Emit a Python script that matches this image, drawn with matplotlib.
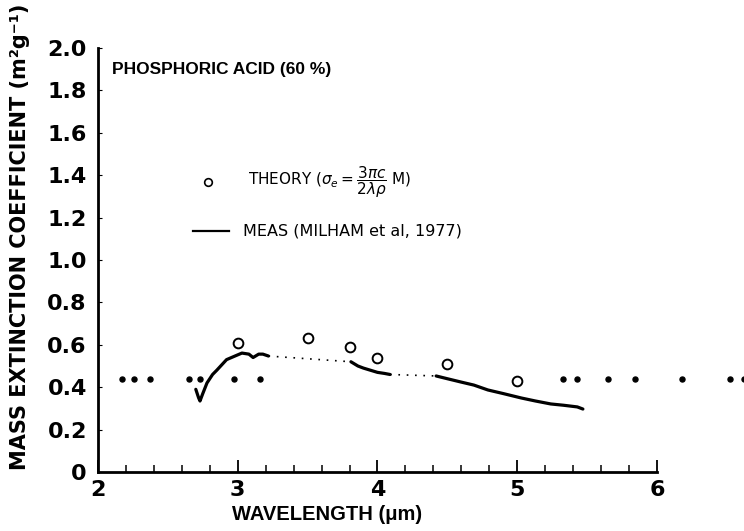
import numpy as np
import matplotlib
matplotlib.use("Agg")
import matplotlib.pyplot as plt

# --- axis ticks
xticks = [2, 3, 4, 5, 6]
xminor = [2.2, 2.4, 2.6, 2.8, 3.2, 3.4, 3.6, 3.8, 4.2, 4.4, 4.6, 4.8, 5.2, 5.4, 5.6, 5.8]
yticks = [0, 0.2, 0.4, 0.6, 0.8, 1.0, 1.2, 1.4, 1.6, 1.8, 2.0]
ytick_labels = ["0", "0.2", "0.4", "0.6", "0.8", "1.0", "1.2", "1.4", "1.6", "1.8", "2.0"]

# --- theory points (open circles)
theory_x = [3.0, 3.5, 3.8, 4.0, 4.5, 5.0]
theory_y = [0.61, 0.63, 0.59, 0.54, 0.51, 0.43]

# --- measured curve (Milham et al. 1977), three solid pieces
meas1_x = [2.70, 2.72, 2.73, 2.75, 2.78, 2.82, 2.85, 2.92, 2.98, 3.03, 3.08, 3.11, 3.15, 3.18, 3.22]
meas1_y = [0.39, 0.35, 0.335, 0.37, 0.42, 0.46, 0.48, 0.53, 0.547, 0.561, 0.556, 0.54, 0.556, 0.556, 0.547]
meas2_x = [3.81, 3.86, 3.90, 3.95, 4.00, 4.05, 4.09]
meas2_y = [0.52, 0.50, 0.49, 0.48, 0.47, 0.465, 0.46]
meas3_x = [4.42, 4.50, 4.60, 4.69, 4.79, 4.90, 5.03, 5.13, 5.24, 5.33, 5.43, 5.47]
meas3_y = [0.453, 0.44, 0.424, 0.41, 0.387, 0.37, 0.349, 0.335, 0.321, 0.315, 0.307, 0.297]

# --- dotted reference row near 0.44
dots_x = [2.17, 2.26, 2.37, 2.65, 2.73, 2.97, 3.16, 5.33, 5.43, 5.65, 5.84, 6.18, 6.52, 6.62]
dots_y = [0.44] * len(dots_x)

fig = plt.figure(figsize=(7.44, 5.31), dpi=100)
ax = fig.add_axes([0.1317, 0.1111, 0.7513, 0.7985])

# measured: solid pieces + thin dotted joins
for xs, ys in [(meas1_x, meas1_y), (meas2_x, meas2_y), (meas3_x, meas3_y)]:
    ax.plot(xs, ys, color="black", lw=2.3, solid_capstyle="round")
gaps = [(meas1_x[-1], meas1_y[-1], meas2_x[0], meas2_y[0]),
        (meas2_x[-1], meas2_y[-1], meas3_x[0], meas3_y[0])]
for x0, y0, x1, y1 in gaps:
    ax.plot([x0, x1], [y0, y1], color="black", lw=1.2, ls=(0, (1, 4)))

ax.plot(theory_x, theory_y, "o", ms=7, mfc="white", mec="black", mew=1.4)
ax.plot(dots_x, dots_y, "o", ms=3.6, color="black", clip_on=False)

ax.set_xlim(2, 6)
ax.set_ylim(0, 2.0)
ax.set_xticks(xticks)
ax.set_xticks(xminor, minor=True)
ax.set_yticks(yticks)
ax.set_yticklabels(ytick_labels)
ax.tick_params(axis="x", which="major", direction="in", length=9, width=1.3, pad=6)
ax.tick_params(axis="x", which="minor", direction="in", length=5, width=1.1)
ax.tick_params(axis="y", direction="in", length=3, width=0.8, pad=8)
for s in ["top", "right"]:
    ax.spines[s].set_visible(False)
for s in ["left", "bottom"]:
    ax.spines[s].set_linewidth(2)

for lab in ax.get_xticklabels() + ax.get_yticklabels():
    lab.set_fontsize(16)
    lab.set_fontweight("bold")

ax.set_xlabel("WAVELENGTH (\u03bcm)", fontsize=14.5, fontweight="bold",
              family="Liberation Sans")
ax.xaxis.set_label_coords(0.41, -0.078)
ax.set_ylabel("MASS EXTINCTION COEFFICIENT (m\u00b2g\u207b\u00b9)", fontsize=15,
              fontweight="bold")
ax.yaxis.set_label_coords(-0.122, 0.555)

ax.text(2.1, 1.9, "PHOSPHORIC ACID (60 %)", fontsize=12.5, fontweight="bold",
        family="Liberation Sans", va="center")

# legend keys drawn by hand
ax.plot([2.79], [1.368], "o", ms=5.5, mfc="white", mec="black", mew=1.2)
ax.text(3.07, 1.368, r"THEORY ($\sigma_e = \dfrac{3\pi c}{2\lambda\rho}$ M)", fontsize=11, va="center")
ax.plot([2.68, 2.94], [1.137, 1.137], color="black", lw=1.6)
ax.text(3.04, 1.137, "MEAS (MILHAM et al, 1977)", fontsize=11.5, va="center")

fig.savefig("out.png", dpi=100)
